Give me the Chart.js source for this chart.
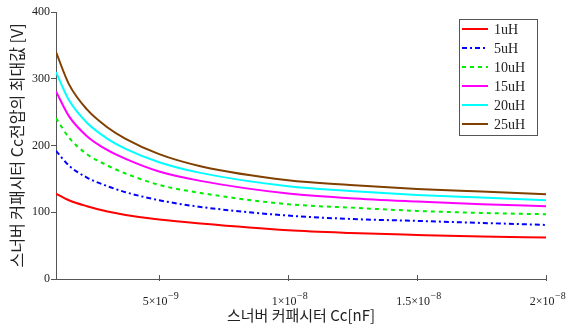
<!DOCTYPE html>
<html>
<head>
<meta charset="utf-8">
<script src="https://cdn.jsdelivr.net/npm/chart.js@4.4.0/dist/chart.umd.min.js"></script>
<style>
  html, body { margin: 0; padding: 0; background: #fff; }
  #wrap { width: 568px; height: 324px; }
</style>
</head>
<body>
<div id="wrap"><canvas id="snubberChart" width="568" height="324"></canvas></div>
<script>
// capacitance samples (F)
const capValues = [1e-9, 1.5e-9, 2.2e-9, 3e-9, 3.7e-9, 5e-9, 6.6e-9, 1e-8, 1.24e-8, 1.5e-8, 1.75e-8, 2e-8];

// peak Cc voltage [V] for each inductance
const v1uH  = [128, 118, 109, 101, 96, 89, 83, 73, 69, 66, 63.5, 62];
const v5uH  = [192, 170, 152, 139, 130, 118, 108, 95, 90, 87, 84, 81];
const v10uH = [241, 212, 187, 170, 158, 141, 129, 112, 107, 102, 99, 97];
const v15uH = [281, 244, 214, 193, 180, 161, 147, 128, 121, 116, 112, 109];
const v20uH = [310, 268, 234, 210, 195, 175, 159, 139, 132, 126, 122, 118];
const v25uH = [340, 292, 254, 227, 210, 187, 169, 148, 141, 135, 131, 127];

const seriesLabels = ['1uH', '5uH', '10uH', '15uH', '20uH', '25uH'];

const xTicks = [5e-9, 1e-8, 1.5e-8, 2e-8];
const xTickBases = ['5\u00d710', '1\u00d710', '1.5\u00d710', '2\u00d710'];
const xTickExps = ['\u22129', '\u22128', '\u22128', '\u22128'];
const yTicks = [0, 100, 200, 300, 400];

function toPoints(vals) {
    return vals.map((v, i) => ({ x: capValues[i], y: v }));
}

//x tick marks + labels with exponent
const xTickPainter = {
    id: 'xTickPainter',
    afterDraw(chart) {
        const ctx = chart.ctx;
        const xs = chart.scales.x;
        const bottom = chart.chartArea.bottom;
        ctx.save();
        ctx.strokeStyle = '#555';
        ctx.lineWidth = 1;
        ctx.fillStyle = '#222';
        ctx.textBaseline = 'alphabetic';
        xTicks.forEach((t, i) => {
            const px = Math.round(xs.getPixelForValue(t)) + 0.5;
            ctx.beginPath();
            ctx.moveTo(px, bottom - 4);
            ctx.lineTo(px, bottom + 2);
            ctx.stroke();

            ctx.font = '12px "Liberation Serif", serif';
            const wb = ctx.measureText(xTickBases[i]).width;
            ctx.font = '10px "Liberation Serif", serif';
            const we = ctx.measureText(xTickExps[i]).width;
            const x0 = px - (wb + we) / 2 + 1;
            ctx.font = '12px "Liberation Serif", serif';
            ctx.fillText(xTickBases[i], x0, bottom + 26);
            ctx.font = '10px "Liberation Serif", serif';
            ctx.fillText(xTickExps[i], x0 + wb + 0.5, bottom + 20);
        });
        ctx.restore();
    }
};

//Legend box inside plot
const boxLegend = {
    id: 'boxLegend',
    afterDraw(chart) {
        const ctx = chart.ctx;
        const area = chart.chartArea;
        const x0 = area.right - 87;
        const y0 = area.top + 7;
        const w = 78;
        const h = 116;
        ctx.save();
        ctx.fillStyle = '#fff';
        ctx.fillRect(x0, y0, w, h);
        ctx.strokeStyle = '#555';
        ctx.lineWidth = 1;
        ctx.strokeRect(x0 + 0.5, y0 + 0.5, w, h);
        ctx.font = '14px "Liberation Serif", serif';
        ctx.textBaseline = 'middle';
        chart.data.datasets.forEach((ds, i) => {
            const yy = y0 + 10 + i * 19;
            ctx.strokeStyle = ds.borderColor;
            ctx.lineWidth = 2;
            ctx.setLineDash(ds.borderDash || []);
            ctx.beginPath();
            ctx.moveTo(x0 + 3, yy);
            ctx.lineTo(x0 + 29, yy);
            ctx.stroke();
            ctx.setLineDash([]);
            ctx.fillStyle = '#222';
            ctx.fillText(ds.label, x0 + 35, yy + 1);
        });
        ctx.restore();
    }
};

function renderChart() {
    const ctx = document.getElementById('snubberChart').getContext('2d');
    const colors = ['#ff0000', '#0000ff', '#00ee00', '#ff00ff', '#00ffff', '#804000'];
    const dashes = [[], [5, 3, 2, 3], [4, 4], [], [], []];
    const values = [v1uH, v5uH, v10uH, v15uH, v20uH, v25uH];

    new Chart(ctx, {
        type: 'line',
        data: {
            datasets: values.map((vals, i) => ({
                label: seriesLabels[i],
                data: toPoints(vals),
                borderColor: colors[i],
                borderDash: dashes[i],
                borderWidth: 2,
                pointRadius: 0,
                fill: false,
                cubicInterpolationMode: 'monotone'
            }))
        },
        options: {
            responsive: false,
            animation: false,
            layout: { padding: { top: 12, right: 22, left: 0, bottom: 0 } },
            plugins: {
                legend: { display: false },
                tooltip: { enabled: false }
            },
            scales: {
                x: {
                    type: 'linear',
                    min: 1e-9,
                    max: 2e-8,
                    afterBuildTicks: axis => { axis.ticks = xTicks.map(v => ({ value: v })); },
                    afterFit: axis => { axis.height = 45; },
                    grid: { display: false },
                    border: { display: true, color: '#555', width: 1 },
                    ticks: { display: false },
                    title: {
                        display: true,
                        text: '스너버 커패시터 Cc[nF]',
                        color: '#222',
                        font: { family: '"Noto Sans CJK KR", sans-serif', size: 15 },
                        padding: { top: 0, bottom: 0 }
                    }
                },
                y: {
                    min: 0,
                    max: 400,
                    afterBuildTicks: axis => { axis.ticks = yTicks.map(v => ({ value: v })); },
                    afterFit: axis => { axis.width = 56; },
                    grid: { drawOnChartArea: false, color: '#555', tickLength: 5 },
                    border: { color: '#555', width: 1 },
                    ticks: {
                        color: '#222',
                        font: { family: '"Liberation Serif", serif', size: 12 },
                        padding: 1
                    },
                    title: {
                        display: true,
                        text: '스너버 커패시터 Cc전압의 최대값 [V]',
                        color: '#222',
                        font: { family: '"Noto Sans CJK KR", sans-serif', size: 16 },
                        padding: { top: 7, bottom: 0 }
                    }
                }
            }
        },
        plugins: [xTickPainter, boxLegend]
    });
}

document.addEventListener('DOMContentLoaded', () => {
    renderChart();
});
</script>
</body>
</html>
